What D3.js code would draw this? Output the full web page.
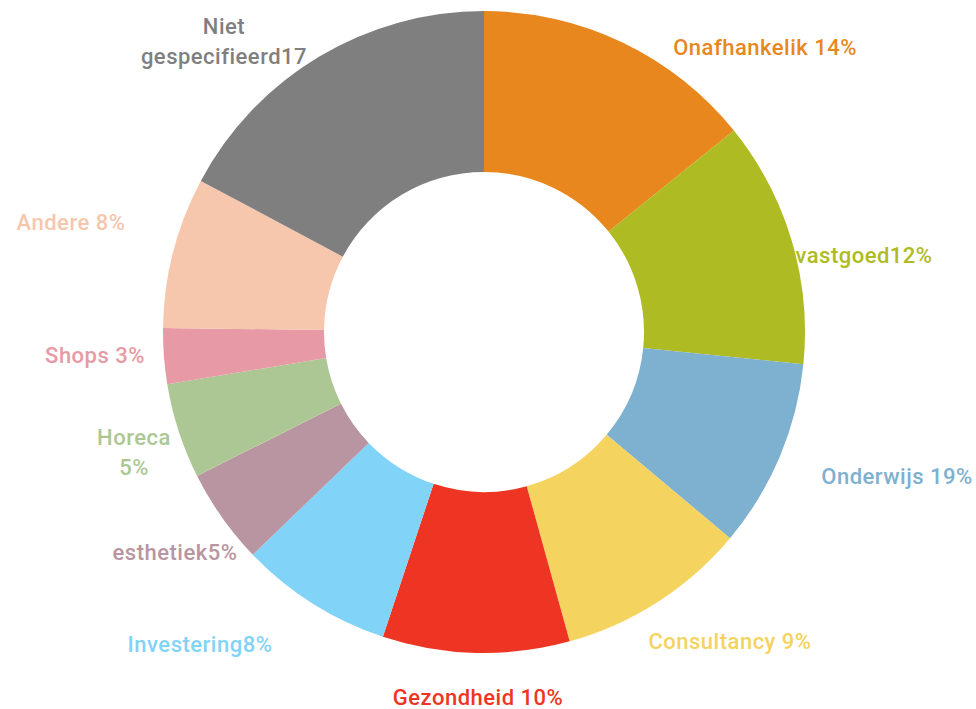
<!DOCTYPE html>
<html>
<head>
<meta charset="utf-8">
<script src="https://cdn.jsdelivr.net/npm/d3@7"></script>
<style>
    html, body { margin: 0; padding: 0; background: #fff; }
    svg text { font-family: Roboto, "Noto Sans", sans-serif; font-weight: 500; letter-spacing: 0.5px; }
</style>
</head>
<body>
<div id="donut"></div>
<script>
const WIDTH = 976;
const HEIGHT = 709;
const CENTER = { x: 484, y: 332 };
const OUTER_R = 321;
const INNER_R = 160;

// Sector shares, clockwise from 12 o'clock.
const sectors = ["Onafhankelik", "vastgoed", "Onderwijs", "Consultancy", "Gezondheid",
    "Investering", "esthetiek", "Horeca", "Shops", "Andere", "Niet gespecificeerd"];
const shares = [14.2, 12.4, 9.5, 9.6, 9.4, 7.7, 4.8, 4.8, 2.8, 7.6, 17.2];
const labelLines = [
    ["Onafhankelik 14%"],
    ["vastgoed12%"],
    ["Onderwijs 19%"],
    ["Consultancy 9%"],
    ["Gezondheid 10%"],
    ["Investering8%"],
    ["esthetiek5%"],
    ["Horeca", "5%"],
    ["Shops 3%"],
    ["Andere 8%"],
    ["Niet", "gespecifieerd17"]
];
const colors = ["#e8871e", "#afbb22", "#7eb0cf", "#f4d35e", "#ee3524",
    "#81d3f8", "#b995a1", "#acc793", "#e79aa5", "#f6c6ad", "#7f7f7f"];

// Label centres relative to the chart centre (layout only).
const labelOffsets = [[281, -285], [380, -77], [413, 144], [246, 309], [-6, 365],
    [-284, 312], [-309, 220], [-350, 120], [-389, 23], [-413, -110], [-260, -291]];
const LINE_GAP = 30;

const svg = d3.select("#donut")
    .append("svg")
    .attr("width", WIDTH)
    .attr("height", HEIGHT);

const chart = svg.append("g")
    .attr("transform", `translate(${CENTER.x}, ${CENTER.y})`);

const pie = d3.pie().sort(null).value(d => d);
const arc = d3.arc().innerRadius(INNER_R).outerRadius(OUTER_R);
const arcs = pie(shares);

chart.selectAll("path")
    .data(arcs)
    .join("path")
    .attr("d", arc)
    .attr("fill", (d, i) => colors[i]);

// Labels use the slice colour, like the original.
const labels = chart.selectAll("text.label")
    .data(arcs)
    .join("text")
    .attr("class", "label")
    .attr("text-anchor", "middle")
    .attr("fill", (d, i) => colors[i])
    .style("font-size", "22px")
    .attr("transform", (d, i) => `translate(${labelOffsets[i][0]}, ${labelOffsets[i][1]})`);

labels.each(function (d, i) {
    const lines = labelLines[i];
    const top = -(lines.length - 1) * LINE_GAP / 2;
    d3.select(this).selectAll("tspan")
        .data(lines)
        .join("tspan")
        .attr("x", 0)
        .attr("y", (l, j) => top + j * LINE_GAP)
        .attr("dy", "0.35em")
        .text(l => l);
});
</script>
</body>
</html>
